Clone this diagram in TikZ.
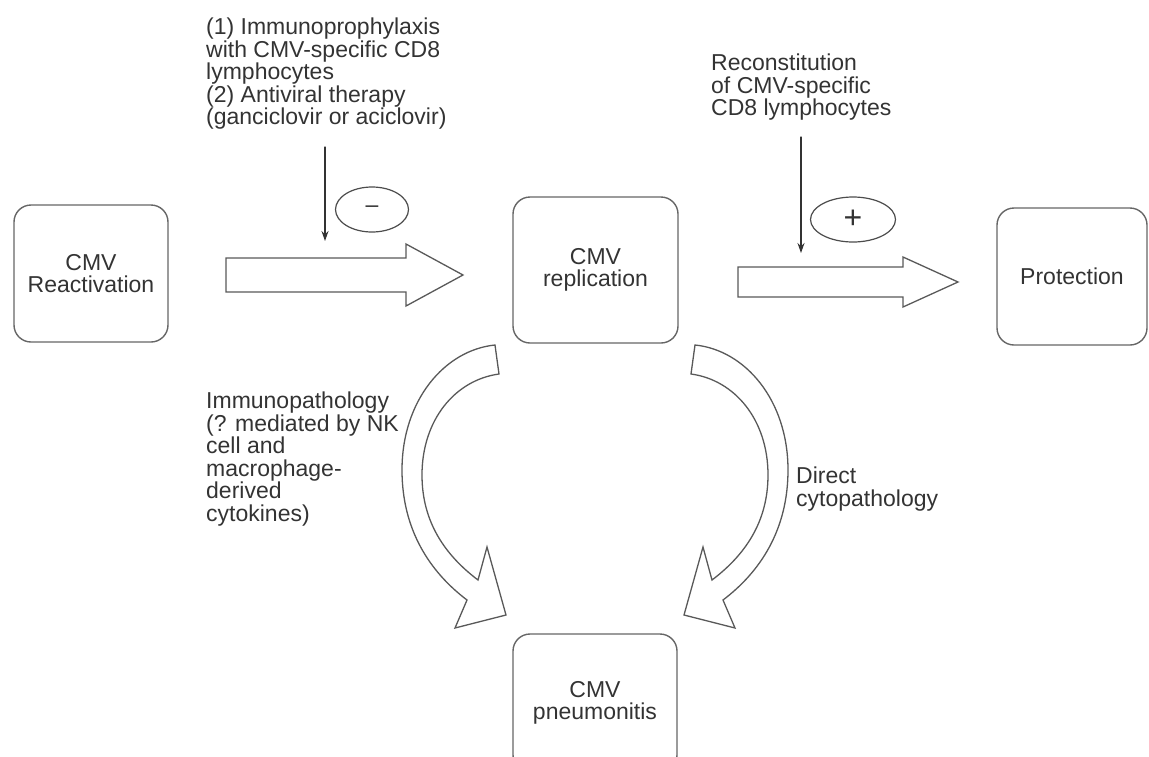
\documentclass[tikz,border=0pt]{standalone}
\usepackage{fontspec}
\setmainfont{Liberation Sans}
\usetikzlibrary{shapes.geometric,arrows.meta}

\tikzset{
  box/.style={draw=black!60, line width=1.4pt, rounded corners=17pt,
    align=center, inner sep=0pt, text=black!80},
  note/.style={align=left, anchor=north west, inner sep=0pt, text=black!80},
  sign/.style={ellipse, draw=black!70, line width=1.2pt, inner sep=0pt, text=black!80},
  blockarrow/.style={draw=black!65, line width=1.3pt, line join=miter, fill=white},
  thinarrow/.style={draw=black!80, line width=1.2pt, -{Stealth[length=10pt,width=7pt]}}
}

\begin{document}
\begin{tikzpicture}[
  x=1pt,
  y=-1pt,
  line join=round,
  line cap=round,
  font=\fontsize{23}{22.5}\selectfont
]

\useasboundingbox (0,0) rectangle (1149,756);
\clip (0,0) rectangle (1149,756);

% ---------- boxes ----------
\node[box, minimum width=154pt, minimum height=137pt] (reac) at (91,273.5) {CMV\\Reactivation};
\node[box, minimum width=165pt, minimum height=146pt] (repl) at (595.5,270) {CMV\\replication};
\node[box, minimum width=150pt, minimum height=137pt] (prot) at (1072,276.5) {Protection};
\node[box, minimum width=164pt, minimum height=138pt] (pneu) at (595,703) {CMV\\pneumonitis};

% ---------- straight block arrows ----------
% name / shaft start / head base / tip / centre / shaft half / head half
\foreach \n/\xs/\xb/\xt/\yc/\sh/\hh in {
  go/226/406/463/275/17/31,
  prot/738/903/958/282/15/25
}{
  \draw[blockarrow] (\xs,\yc-\sh) -- (\xb,\yc-\sh) -- (\xb,\yc-\hh) -- (\xt,\yc)
    -- (\xb,\yc+\hh) -- (\xb,\yc+\sh) -- (\xs,\yc+\sh) -- cycle;
}

% ---------- curved block arrows (mirrored about repl) ----------
\foreach \s in {1,-1}{
  \begin{scope}[shift={(595,0)}, xscale=\s]
    \draw[blockarrow] (-100,345) .. controls (-150,350) and (-193,400) .. (-193,470)
      .. controls (-193,530) and (-165,572) .. (-128,600)
      -- (-140,628) -- (-89,615) -- (-108,547) -- (-117,580)
      .. controls (-150,555) and (-173,522) .. (-173,475)
      .. controls (-173,420) and (-140,380) .. (-96,374) -- cycle;
  \end{scope}
}

% ---------- influences ----------
\coordinate (inhib) at (325,147);
\coordinate (inhib end) at (325,241);
\coordinate (recon) at (801,137);
\coordinate (recon end) at (801,253);

\draw[thinarrow] (inhib) -- (inhib end);
\draw[thinarrow] (recon) -- (recon end);

\node[sign, minimum width=73pt, minimum height=45pt] (minus) at (372,209.5) {--};
\node[sign, minimum width=85pt, minimum height=45pt] (plus) at (853,219.5) {\fontsize{32}{32}\selectfont +};

% ---------- notes ----------
\node[note] (prophylaxis) at (206,18) {(1) Immunoprophylaxis\\with CMV-specific CD8\\lymphocytes\\(2) Antiviral therapy\\(ganciclovir or aciclovir)};
\node[note] (reconst) at (711,54) {Reconstitution\\of CMV-specific\\CD8 lymphocytes};
\node[note] (immunopath) at (206,392) {Immunopathology\\(? mediated by NK\\cell and\\macrophage-\\derived\\cytokines)};
\node[note] (cytopath) at (796,467) {Direct\\cytopathology};

\end{tikzpicture}
\end{document}
